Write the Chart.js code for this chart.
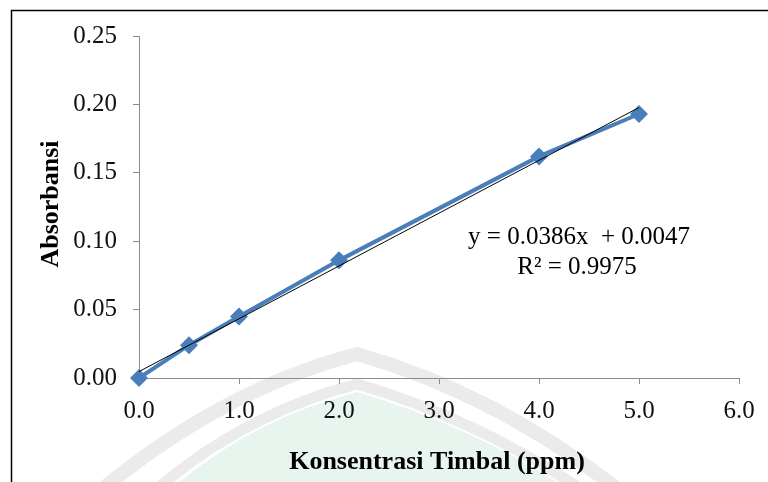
<!DOCTYPE html>
<html>
<head>
<meta charset="utf-8">
<script src="https://cdn.jsdelivr.net/npm/chart.js@4"></script>
<style>
html,body{margin:0;padding:0;background:#fff;}
#wrap{width:768px;height:482px;position:relative;}
</style>
</head>
<body>
<div id="wrap"><canvas id="c" width="768" height="482"></canvas></div>
<script>
// Data
const concentrations = [0, 0.5, 1, 2, 4, 5];
const absorbance = [0, 0.024, 0.045, 0.086, 0.162, 0.193];
const trendX = [0, 5];
const trendY = [0.0047, 0.1977];
const xTicks = [0, 1, 2, 3, 4, 5, 6];
const yTicks = [0, 0.05, 0.10, 0.15, 0.20, 0.25];
const xTitle = 'Konsentrasi Timbal (ppm)';
const yTitle = 'Absorbansi';
const eqLines = ['y = 0.0386x  + 0.0047', 'R² = 0.9975'];

const serif = "'Liberation Serif', 'Times New Roman', serif";

const decor = {
  id: 'decor',
  beforeDraw(chart) {
    const ctx = chart.ctx;
    ctx.save();
    // faint watermark
    ctx.fillStyle = '#e8f5ef';
    ctx.beginPath();
    ctx.moveTo(170, 490);
    ctx.quadraticCurveTo(250, 420, 357, 392);
    ctx.quadraticCurveTo(470, 425, 570, 490);
    ctx.closePath();
    ctx.fill();
    ctx.strokeStyle = '#ebebeb';
    ctx.lineWidth = 14;
    ctx.beginPath();
    ctx.moveTo(95, 495);
    ctx.quadraticCurveTo(220, 390, 357, 354);
    ctx.quadraticCurveTo(500, 395, 625, 495);
    ctx.stroke();
    ctx.lineWidth = 11;
    ctx.beginPath();
    ctx.moveTo(150, 495);
    ctx.quadraticCurveTo(240, 415, 357, 384);
    ctx.quadraticCurveTo(480, 420, 590, 495);
    ctx.stroke();
    // frame
    ctx.strokeStyle = '#000';
    ctx.lineWidth = 1.5;
    ctx.beginPath();
    ctx.moveTo(11.5, 490);
    ctx.lineTo(11.5, 10.5);
    ctx.lineTo(770, 10.5);
    ctx.stroke();
    ctx.restore();
  },
  afterDraw(chart) {
    const ctx = chart.ctx;
    ctx.save();
    ctx.fillStyle = '#000';
    ctx.textAlign = 'center';
    ctx.textBaseline = 'middle';
    ctx.font = 'bold 26px ' + serif;
    ctx.fillText(xTitle, 437, 462);
    ctx.translate(51, 204);
    ctx.rotate(-Math.PI / 2);
    ctx.fillText(yTitle, 0, 0);
    ctx.restore();
    ctx.save();
    ctx.fillStyle = '#000';
    ctx.textAlign = 'center';
    ctx.textBaseline = 'middle';
    ctx.font = '25px ' + serif;
    ctx.fillText(eqLines[0], 579, 237);
    ctx.fillText(eqLines[1], 577, 267);
    ctx.restore();
  }
};

new Chart(document.getElementById('c'), {
  type: 'scatter',
  data: {
    datasets: [
      {
        label: 'Trend',
        data: trendX.map((x, i) => ({x: x, y: trendY[i]})),
        showLine: true,
        borderColor: '#000',
        borderWidth: 1,
        pointRadius: 0,
        order: 0
      },
      {
        label: 'Absorbansi',
        data: concentrations.map((x, i) => ({x: x, y: absorbance[i]})),
        showLine: true,
        clip: false,
        borderColor: '#4a7ebb',
        backgroundColor: '#4a7ebb',
        borderWidth: 4,
        pointStyle: 'rectRot',
        pointRadius: 9,
        pointBorderWidth: 0,
        order: 1
      }
    ]
  },
  options: {
    responsive: false,
    animation: false,
    layout: { padding: { left: 0, top: 36, right: 29, bottom: 0 } },
    plugins: { legend: { display: false }, tooltip: { enabled: false } },
    scales: {
      x: {
        type: 'linear',
        min: 0, max: 6,
        afterFit(s) { s.height = 104; },
        afterBuildTicks(s) { s.ticks = xTicks.map(v => ({value: v})); },
        grid: { drawOnChartArea: false, color: '#8c8c8c', tickLength: 6, tickColor: '#8c8c8c' },
        border: { color: '#8c8c8c', width: 1 },
        ticks: {
          color: '#111',
          font: { family: serif, size: 25 },
          padding: 12,
          maxRotation: 0,
          callback: v => v.toFixed(1)
        }
      },
      y: {
        type: 'linear',
        min: 0, max: 0.25,
        afterFit(s) { s.width = 139; },
        afterBuildTicks(s) { s.ticks = yTicks.map(v => ({value: v})); },
        grid: { drawOnChartArea: false, color: '#8c8c8c', tickLength: 6, tickColor: '#8c8c8c' },
        border: { color: '#8c8c8c', width: 1 },
        ticks: {
          color: '#111',
          font: { family: serif, size: 25 },
          padding: 16,
          callback: v => v.toFixed(2)
        }
      }
    }
  },
  plugins: [decor]
});
</script>
</body>
</html>
